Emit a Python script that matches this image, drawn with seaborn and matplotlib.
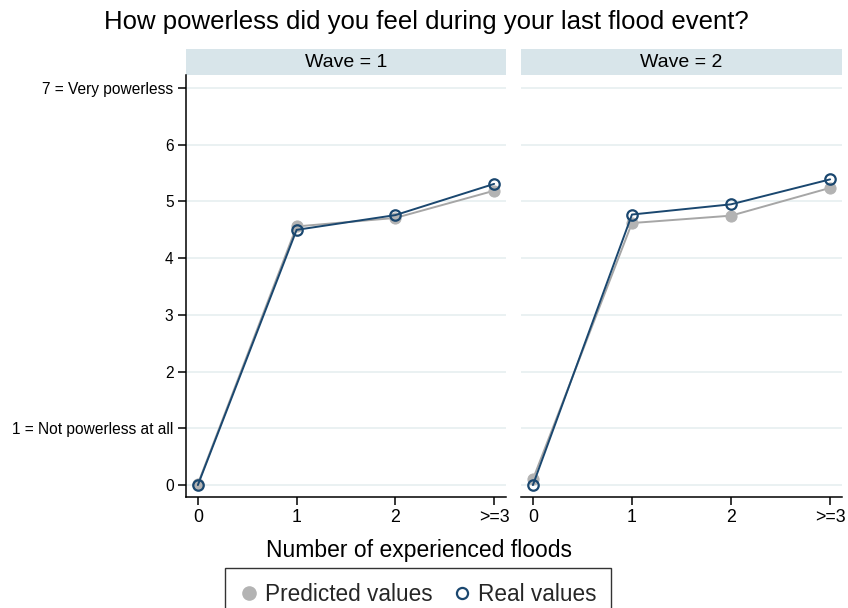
import matplotlib
matplotlib.use("Agg")
import matplotlib.pyplot as plt
from matplotlib.lines import Line2D
from matplotlib.patches import Rectangle
import seaborn as sns
import pandas as pd

floods = ["0", "1", "2", ">=3"]
waves = [1, 2]
w1_pred = [0.02, 4.56, 4.71, 5.19]
w1_real = [0.0, 4.50, 4.76, 5.31]
w2_pred = [0.10, 4.62, 4.75, 5.24]
w2_real = [0.0, 4.77, 4.95, 5.39]
ytick_vals = [0, 1, 2, 3, 4, 5, 6, 7]
ytick_labels = ["0", "1 = Not powerless at all", "2", "3", "4", "5", "6", "7 = Very powerless"]

sns.set_theme(style="white")
plt.rcParams["font.family"] = ["Liberation Sans", "DejaVu Sans"]

PRED_C = "#b3b3b3"
PRED_L = "#a6a6a6"
REAL_C = "#1a476f"
GRID_C = "#e8f0f1"
STRIP_C = "#d8e5ea"

fig = plt.figure(figsize=(8.48, 6.08), dpi=100)
H = 608.0
W = 848.0
bottom = 1 - 497 / H
height = (497 - 75) / H
ax1 = fig.add_axes([186 / W, bottom, 320 / W, height])
ax2 = fig.add_axes([521 / W, bottom, 321 / W, height])

data = {1: (w1_pred, w1_real), 2: (w2_pred, w2_real)}
for ax, wv in zip([ax1, ax2], waves):
    pred, real = data[wv]
    df = pd.DataFrame({"x": list(range(len(floods))), "pred": pred, "real": real})
    for yv in ytick_vals:
        ax.axhline(yv, color=GRID_C, lw=1.3, zorder=0)
    sns.lineplot(data=df, x="x", y="pred", ax=ax, color=PRED_L, lw=1.4,
                 marker="o", markersize=8, markerfacecolor=PRED_C,
                 markeredgecolor=PRED_C, zorder=2)
    sns.lineplot(data=df, x="x", y="real", ax=ax, color=REAL_C, lw=1.4,
                 marker="o", markersize=7.5, markerfacecolor="none",
                 markeredgecolor=REAL_C, markeredgewidth=1.6, zorder=3)
    ax.set_xlim(-0.12, 3.12)
    ax.set_ylim(-0.21, 7.23)
    ax.set_xticks(range(len(floods)))
    ax.set_xticklabels(floods, fontsize=12.8)
    ax.set_xlabel("")
    ax.set_ylabel("")
    for s in ["top", "right"]:
        ax.spines[s].set_visible(False)
    ax.spines["bottom"].set_color("black")
    ax.spines["bottom"].set_linewidth(1.1)
    ax.tick_params(axis="x", direction="out", length=6, width=1.1, color="black",
                   bottom=True, pad=3, labelcolor="black")
    # strip
    ax.add_patch(Rectangle((0, 1.0), 1, 26 / 422, transform=ax.transAxes,
                           facecolor=STRIP_C, edgecolor="none", clip_on=False))
    ax.text(0.5, 1 + 13 / 422, f"Wave = {wv}", transform=ax.transAxes,
            ha="center", va="center", fontsize=14, color="black")

ax1.set_yticks(ytick_vals)
ax1.set_yticklabels(ytick_labels, fontsize=11.2)
ax1.spines["left"].set_color("black")
ax1.spines["left"].set_linewidth(1.1)
ax1.tick_params(axis="y", direction="out", length=6, width=1.1, color="black",
                left=True, pad=3, labelcolor="black")
ax2.set_yticks(ytick_vals)
ax2.set_yticklabels([])
ax2.spines["left"].set_visible(False)
ax2.tick_params(axis="y", left=False)

fig.text(426 / W, 1 - 22 / H, "How powerless did you feel during your last flood event?",
         ha="center", va="center", fontsize=18.5, color="black")
fig.text(419 / W, 1 - 550 / H, "Number of experienced floods",
         ha="center", va="center", fontsize=16.5, color="black")

handles = [
    Line2D([], [], ls="none", marker="o", markersize=9.5, markerfacecolor=PRED_C,
           markeredgecolor=PRED_C),
    Line2D([], [], ls="none", marker="o", markersize=8, markerfacecolor="none",
           markeredgecolor=REAL_C, markeredgewidth=1.6),
]
leg = fig.legend(handles, ["Predicted values", "Real values"], loc="upper center",
                 bbox_to_anchor=(418 / W, 1 - 568 / H), borderaxespad=0, ncol=2,
                 fontsize=16.3, frameon=True, fancybox=False, edgecolor="black",
                 handletextpad=0.3, columnspacing=0.9, borderpad=0.65,
                 handlelength=0.8)
leg.get_frame().set_linewidth(1.0)

fig.savefig("out.png", dpi=100, facecolor="white")
